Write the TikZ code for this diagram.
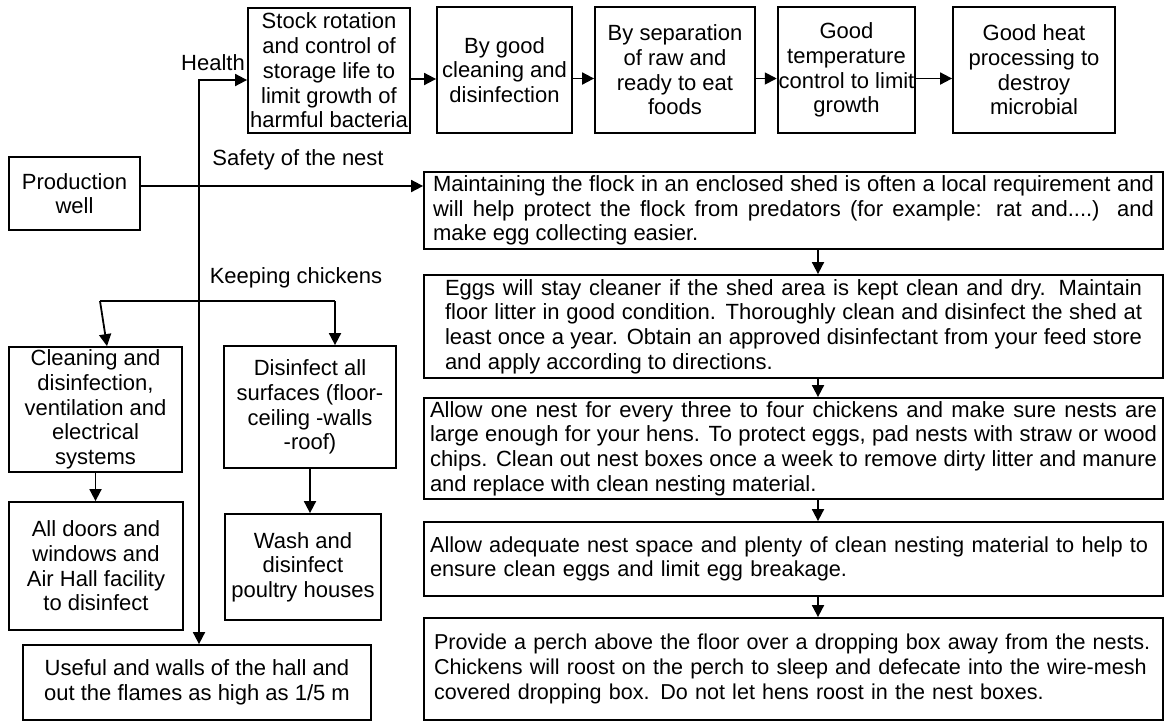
\documentclass[tikz,border=0pt]{standalone}
\usepackage{fontspec}
\setmainfont{Liberation Sans}
\usetikzlibrary{arrows.meta}
\tolerance=10000
\hyphenpenalty=10000
\hbadness=10000
\hfuzz=20pt
\begin{document}
\begin{tikzpicture}[x=1pt,y=-1pt,
  txt/.style={font=\fontsize{22}{24.7}\selectfont},
  box/.style={txt, draw, line width=1.8pt, inner sep=1pt, align=center},
  wide/.style={box, minimum width=739pt, inner ysep=2pt},
  conn/.style={line width=1.8pt},
  arr/.style={conn, -{Triangle[length=12pt,width=12pt]}},
  lab/.style={txt, inner sep=0pt}]
\useasboundingbox (0,0) rectangle (1164,721);

% top row
\node[box, minimum width=162pt, minimum height=125pt] (s1) at (329,70.5) {Stock rotation\\and control of\\storage life to\\limit growth of\\harmful bacteria};
\node[box, minimum width=135pt, minimum height=126pt] (s2) at (504.5,70) {By good\\cleaning and\\disinfection};
\node[box, minimum width=160pt, minimum height=126pt] (s3) at (675,70) {By separation\\of raw and\\ready to eat\\foods};
\node[box, minimum width=137pt, minimum height=126pt] (s4) at (846.5,70) {Good\\temperature\\control to limit\\growth};
\node[box, minimum width=162pt, minimum height=126pt] (s5) at (1034,70) {Good heat\\processing to\\destroy\\microbial};

\draw[arr] ([yshift=-8.5pt]s1.east) -- ([yshift=-8.5pt]s1.east -| s2.west);
\draw[arr] ([yshift=-8.5pt]s2.east) -- ([yshift=-8.5pt]s2.east -| s3.west);
\draw[arr] ([yshift=-8.5pt]s3.east) -- ([yshift=-8.5pt]s3.east -| s4.west);
\draw[arr] ([yshift=-8.5pt]s4.east) -- ([yshift=-8.5pt]s4.east -| s5.west);

% left
\node[box, minimum width=131pt, minimum height=73pt] (prod) at (74.5,193.5) {Production\\well};

\node[box, minimum width=173pt, minimum height=125pt] (clean) at (95.5,409.5) {Cleaning and\\disinfection,\\ventilation and\\electrical\\systems};
\node[box, minimum width=172pt, minimum height=122pt] (dis) at (310,407) {Disinfect all\\surfaces (floor-\\ceiling -walls\\-roof)};
\node[box, minimum width=174pt, minimum height=128pt] (doors) at (96,566) {All doors and\\windows and\\Air Hall facility\\to disinfect};
\node[box, minimum width=156pt, minimum height=106pt] (wash) at (303,567) {Wash and\\disinfect\\poultry houses};
\node[box, minimum width=348pt, minimum height=75pt] (useful) at (197,682.5) {Useful and walls of the hall and\\out the flames as high as 1/5 m};

% right column
\node[wide, minimum height=77pt, text width=721pt, inner xsep=9pt, align=justify] (m1) at (793.5,210.5)
 {Maintaining the flock in an enclosed shed is often a local requirement and\linebreak will help protect the flock from predators (for example: rat and....) and\linebreak make egg collecting easier.};
\node[wide, minimum height=103pt, text width=697pt, inner xsep=21pt, align=justify] (m2) at (793.5,326.5)
 {Eggs will stay cleaner if the shed area is kept clean and dry. Maintain\linebreak floor litter in good condition. Thoroughly clean and disinfect the shed at\linebreak least once a year. Obtain an approved disinfectant from your feed store\linebreak and apply according to directions.};
\node[wide, minimum height=101pt, text width=727pt, inner xsep=6pt, align=justify] (m3) at (793.5,448.5)
 {Allow one nest for every three to four chickens and make sure nests are\linebreak large enough for your hens. To protect eggs, pad nests with straw or wood\linebreak chips. Clean out nest boxes once a week to remove dirty litter and manure\linebreak and replace with clean nesting material.};
\node[wide, minimum height=74pt, text width=727pt, inner xsep=6pt, align=left, font=\fontsize{21.75}{24.7}\selectfont] (m4) at (793.5,559)
 {\mbox{Allow adequate nest space and plenty of clean nesting material to help to}\\\mbox{ensure clean eggs and limit egg breakage.}};
\node[wide, minimum height=102pt, text width=719pt, inner xsep=10pt, align=left, font=\fontsize{21.55}{24.7}\selectfont] (m5) at (793.5,669)
 {\mbox{Provide a perch above the floor over a dropping box away from the nests.}\\\mbox{Chickens will roost on the perch to sleep and defecate into the wire-mesh}\\\mbox{covered dropping box. Do not let hens roost in the nest boxes.}};

\draw[arr] ([xshift=24.5pt]m1.south) -- ([xshift=24.5pt]m1.south |- m2.north);
\draw[arr] ([xshift=24.5pt]m2.south) -- ([xshift=24.5pt]m2.south |- m3.north);
\draw[arr] ([xshift=24.5pt]m3.south) -- ([xshift=24.5pt]m3.south |- m4.north);
\draw[arr] ([xshift=24.5pt]m4.south) -- ([xshift=24.5pt]m4.south |- m5.north);

% labels
\node[lab] (lhealth) at (213,63) {Health};
\node[lab] (lsafe) at (298,160) {Safety of the nest};
\node[lab] (lkeep) at (296,278) {Keeping chickens};

% connectors
\draw[arr] ([yshift=7.5pt]prod.east) -- ([yshift=7.5pt]prod.east -| m1.west);
\coordinate (hc) at (199,80);
\draw[conn, {Triangle[length=12pt,width=12pt]}-{Triangle[length=12pt,width=12pt]}] (s1.west |- hc) -- (hc) -- (hc |- useful.north);
\coordinate (kl) at (100,301);
\coordinate (kr) at (335,301);
\draw[conn] (kl) -- (kr);
\draw[arr] (kl) -- ([xshift=11.5pt]clean.north);
\draw[arr] (kr) -- (kr |- dis.north);
\draw[arr] (clean.south) -- (clean.south |- doors.north);
\draw[arr] (dis.south) -- (dis.south |- wash.north);
\end{tikzpicture}
\end{document}
